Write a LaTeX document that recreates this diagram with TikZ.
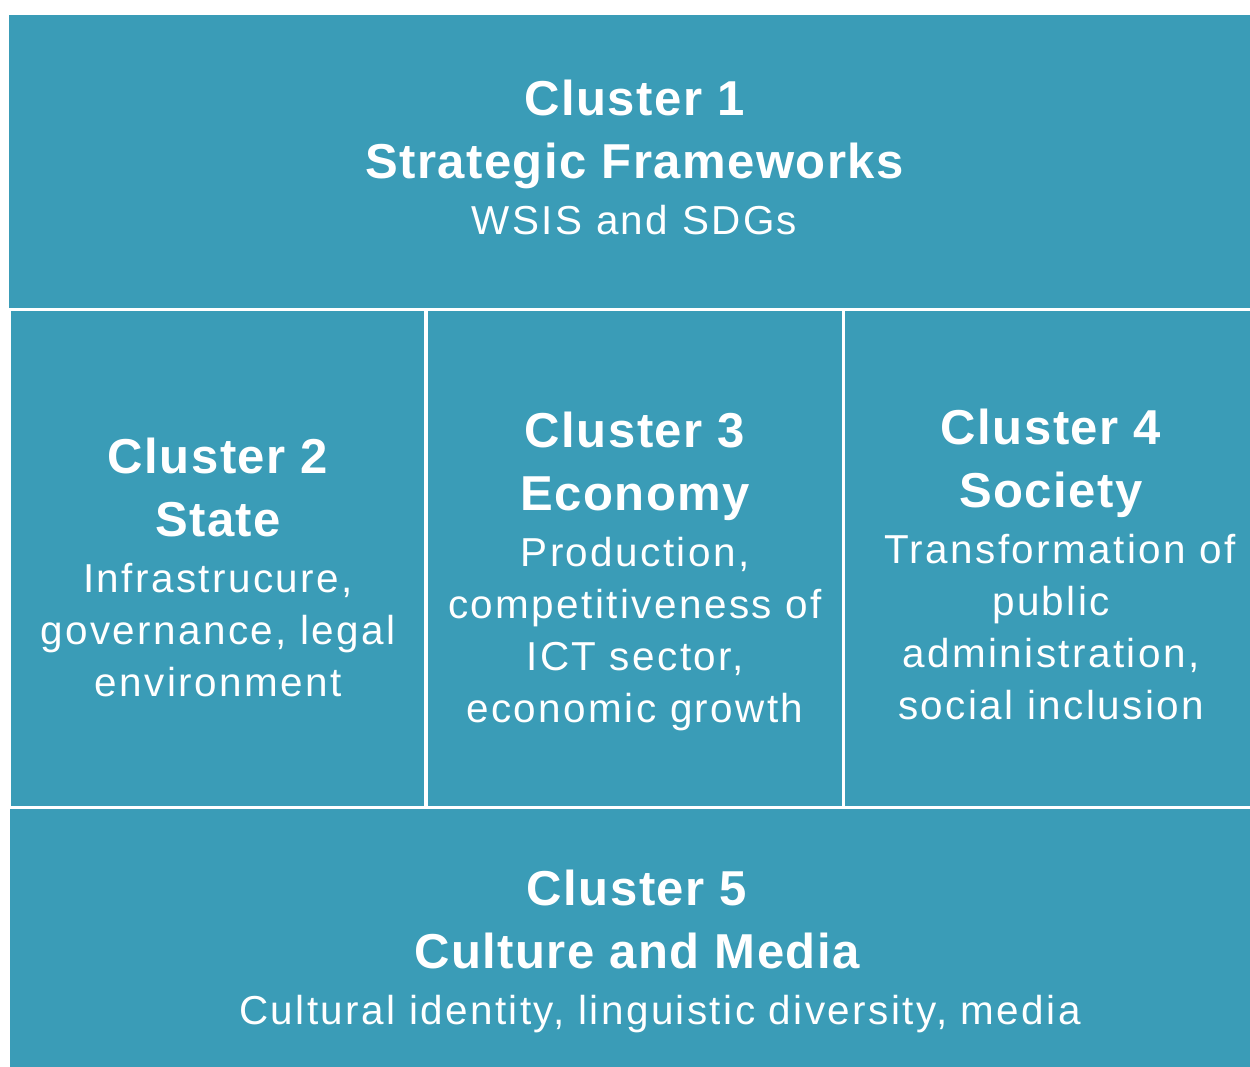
\documentclass[tikz,border=0pt]{standalone}
\usepackage{fontspec}
\usepackage{xcolor}
\usepackage{tikz}
\usetikzlibrary{
    fit
}
\setmainfont{Liberation Sans}
\newfontfamily\headfont{Liberation Sans}[LetterSpace=3]
\newfontfamily\bodyfont{Liberation Sans}[LetterSpace=6]
\definecolor{clusterblue}{RGB}{58,156,183}
\newcommand\clhead[1]{{\headfont\bfseries\fontsize{27.9}{35}\selectfont #1}}

\begin{document}
\begin{tikzpicture}[x=0.2mm,y=-0.2mm]
    \tikzstyle{cluster}=[fill=clusterblue, draw=none, inner sep=0pt]
    \tikzstyle{cltext}=[text=white, align=center, anchor=north, inner sep=0pt,
        font=\bodyfont\fontsize{23}{29.6}\selectfont]
    \fill[white] (0,0) rectangle (1250,1067);
    \useasboundingbox (0,0) rectangle (1250,1067);
    % the five cluster boxes
    \node[cluster, fit={(9,15) (1250,308)}] (c1) {};
    \node[cluster, fit={(11,311) (424,806)}] (c2) {};
    \node[cluster, fit={(428,311) (842,806)}] (c3) {};
    \node[cluster, fit={(845,311) (1250,806)}] (c4) {};
    \node[cluster, fit={(10,809) (1250,1067)}] (c5) {};
    % their texts
    \node[cltext] (t1) at (634.5,80) {\clhead{Cluster 1}\\[2.2mm]
        \clhead{Strategic Frameworks}\\[0.8mm] WSIS and SDGs};
    \node[cltext] (t2) at (218,438) {\clhead{Cluster 2}\\[2.2mm]
        \clhead{State}\\[0.8mm] Infrastrucure,\\ governance, legal\\ environment};
    \node[cltext] (t3) at (635,412) {\clhead{Cluster 3}\\[2.2mm]
        \clhead{Economy}\\[0.8mm] Production,\\ competitiveness of\\ ICT sector,\\ economic growth};
    \node[cltext] (t4) at (1051,409) {\clhead{Cluster 4}\\[2.2mm]
        \clhead{Society}\\[0.8mm] \hspace*{3.6mm}Transformation of\\ public\\ administration,\\ social inclusion};
    \node[cltext] (t5) at (637,870) {\clhead{Cluster 5}\\[2.2mm]
        \clhead{Culture and Media}\\[0.8mm] \hspace*{9.2mm}Cultural identity, linguistic diversity, media};
\end{tikzpicture}
\end{document}
